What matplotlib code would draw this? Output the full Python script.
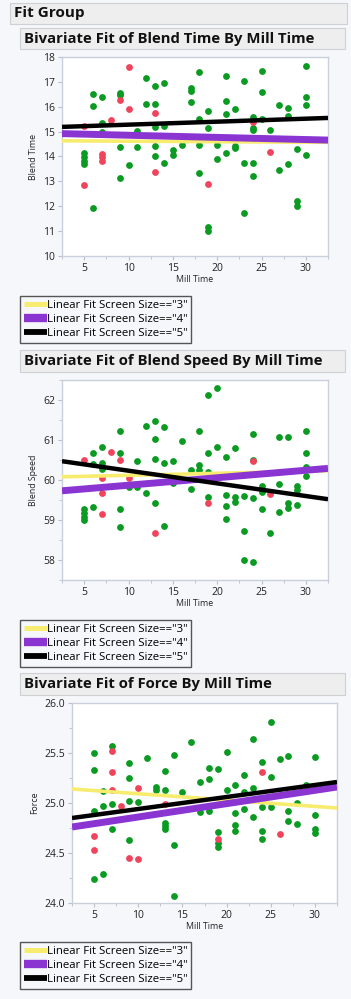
import matplotlib.pyplot as plt
from matplotlib.patches import Rectangle
from matplotlib.lines import Line2D
from matplotlib.ticker import MultipleLocator

plt.rcParams['font.family'] = ['Open Sans', 'DejaVu Sans']

##### data #####
xlim = (2.5, 32.5)

# Blend Time
bt_green_x = [12, 13, 14, 6, 7, 9, 9, 6, 12, 13, 7, 13, 14, 11, 7, 9, 11, 13, 15, 15, 16, 5, 5, 5, 5, 13, 14, 10, 9, 6,
              30, 18, 21, 25, 23, 17, 17, 17, 25, 30, 30, 21, 27, 28, 22, 19, 21, 24, 18, 28, 25, 19, 24, 24, 26,
              18, 20, 22, 22, 29, 30, 21, 20, 23, 24, 28, 27, 18, 24, 29, 29, 23, 19, 19]
bt_green_y = [17.17, 16.84, 16.97, 16.5, 16.38, 16.57, 16.48, 16.02, 16.13, 16.13, 15.35, 15.19, 15.22, 15.03, 14.98,
              14.39, 14.38, 14.43, 14.25, 14.05, 14.45, 14.16, 13.99, 13.83, 13.68, 14.03, 13.75, 13.65, 13.14, 11.91,
              17.63, 17.38, 17.25, 17.42, 17.02, 16.77, 16.64, 16.19, 16.58, 16.38, 16.09, 16.22, 16.06, 15.95, 15.9,
              15.82, 15.69, 15.59, 15.5, 15.62, 15.5, 15.16, 15.15, 15.06, 15.06, 14.47, 14.47, 14.41, 14.35, 14.29,
              14.05, 14.15, 13.89, 13.75, 13.75, 13.71, 13.46, 13.33, 13.21, 12.23, 12.02, 11.73, 11.15, 11.0]
bt_red_x = [10, 9, 10, 13, 8, 5, 7, 7, 7, 13, 5, 24, 26, 19]
bt_red_y = [17.6, 16.28, 15.9, 15.73, 15.46, 15.23, 14.1, 13.96, 13.81, 13.37, 12.84, 15.39, 14.19, 12.89]
bt_fit_start = [14.63, 14.92, 15.19]   # screen size 3, 4, 5 at x=2.5
bt_fit_end = [14.57, 14.66, 15.55]     # at x=32.5

# Blend Speed
bs_green_x = [9, 12, 13, 13, 14, 16, 7, 6, 9, 13, 11, 15, 14, 6, 7, 7, 10, 11, 12, 13, 6, 5, 5, 5, 5, 9, 9, 14, 15,
              20, 19, 18, 24, 27, 28, 30, 20, 22, 19, 30, 21, 24, 18, 17, 18, 19, 30, 30, 17, 27, 25, 25, 29, 29,
              21, 22, 22, 23, 24, 19, 21, 28, 28, 29, 25, 27, 21, 23, 26, 23, 24]
bs_green_y = [61.23, 61.36, 61.48, 61.02, 61.32, 60.98, 60.83, 60.68, 60.68, 60.53, 60.48, 60.48, 60.43, 60.39, 60.42,
              60.27, 59.83, 59.82, 59.67, 59.42, 59.33, 59.27, 59.17, 59.08, 59.0, 59.28, 58.83, 58.85, 59.92,
              62.29, 62.12, 61.23, 61.15, 61.08, 61.07, 61.22, 60.82, 60.79, 60.67, 60.68, 60.58, 60.5, 60.38, 60.25,
              60.25, 60.21, 60.32, 60.1, 59.78, 59.91, 59.85, 59.71, 59.85, 59.75, 59.63, 59.57, 59.45, 59.6, 59.54,
              59.57, 59.36, 59.42, 59.29, 59.38, 59.28, 59.19, 59.03, 58.73, 58.68, 57.99, 57.96]
bs_red_x = [8, 5, 9, 7, 10, 7, 7, 13, 24, 26, 19]
bs_red_y = [60.7, 60.49, 60.49, 60.06, 60.06, 59.67, 59.15, 58.68, 60.47, 59.65, 59.42]
bs_fit_start = [60.08, 59.73, 60.47]
bs_fit_end = [60.23, 60.29, 59.52]

# Force
fo_green_x = [7, 5, 11, 9, 14, 5, 13, 9, 12, 12, 13, 6, 15, 9, 10, 7, 6, 5, 7, 13, 13, 13, 9, 14, 6, 5, 14,
              25, 16, 23, 20, 30, 27, 26, 24, 18, 19, 22, 25, 18, 17, 21, 29, 20, 23, 22, 28, 24, 25, 22, 17,
              18, 27, 21, 30, 23, 27, 28, 21, 21, 19, 24, 24, 30, 30, 19, 19]
fo_green_y = [25.57, 25.5, 25.45, 25.4, 25.48, 25.33, 25.32, 25.25, 25.16, 25.13, 25.13, 25.12, 25.11, 25.02, 25.01,
              24.99, 24.97, 24.92, 24.74, 24.8, 24.77, 24.74, 24.63, 24.58, 24.29, 24.24, 24.07,
              25.81, 25.61, 25.64, 25.51, 25.46, 25.47, 25.44, 25.41, 25.35, 25.34, 25.28, 25.26, 25.24, 25.21,
              25.18, 25.18, 25.13, 25.15, 25.11, 25.0, 24.96, 24.96, 24.94, 24.91, 24.92, 24.92, 24.9, 24.88,
              24.86, 24.82, 24.79, 24.78, 24.72, 24.71, 24.72, 24.64, 24.74, 24.7, 24.6, 24.56]
fo_red_x = [7, 7, 10, 7, 8, 13, 5, 5, 9, 10, 24, 26, 19]
fo_red_y = [25.52, 25.31, 25.15, 25.13, 24.97, 24.99, 24.67, 24.53, 24.45, 24.44, 25.31, 24.69, 24.64]
fo_fit_start = [25.14, 24.76, 24.85]
fo_fit_end = [24.95, 25.16, 25.21]

fit_labels = ['Linear Fit Screen Size=="3"', 'Linear Fit Screen Size=="4"', 'Linear Fit Screen Size=="5"']
fit_colors = ['#f7ec6e', '#8a35d2', '#000000']
fit_widths = [2.6, 5.0, 3.2]

##### figure #####
W, H = 351, 999
bg = '#f6f7fb'
fig = plt.figure(figsize=(W / 100, H / 100), dpi=100, facecolor=bg)


def fbox(x0, y0, x1, y1):
    # pixel box (top-left origin) -> figure fraction [l, b, w, h]
    return [x0 / W, 1 - y1 / H, (x1 - x0) / W, (y1 - y0) / H]


def header(x0, y0, x1, y1, text, size):
    l, b, w, h = fbox(x0, y0, x1, y1)
    fig.add_artist(Rectangle((l, b), w, h, transform=fig.transFigure,
                             facecolor='#eeeeef', edgecolor='#cfd0d4', lw=0.8))
    fig.text(l + 4 / W, b + h / 2, text, fontsize=size, fontweight='bold',
             va='center', ha='left', color='#111111')


def panel(box, gx, gy, rx, ry, fstart, fend, ylim, ymaj, ymin, ylabel, yfmt, leg_top):
    ax = fig.add_axes(fbox(*box))
    ax.set_facecolor('white')
    ax.scatter(gx, gy, s=24, color='#0b9a22', zorder=2, linewidths=0)
    ax.scatter(rx, ry, s=24, color='#f0445c', zorder=2, linewidths=0)
    for i in range(3):
        ax.plot(xlim, [fstart[i], fend[i]], color=fit_colors[i], lw=fit_widths[i],
                solid_capstyle='butt', zorder=3 + i)
    ax.set_xlim(*xlim)
    ax.set_ylim(*ylim)
    ax.xaxis.set_major_locator(MultipleLocator(5))
    ax.xaxis.set_minor_locator(MultipleLocator(2.5))
    ax.yaxis.set_major_locator(MultipleLocator(ymaj))
    ax.yaxis.set_minor_locator(MultipleLocator(ymin))
    ax.set_xticks([5, 10, 15, 20, 25, 30])
    ax.yaxis.set_major_formatter(yfmt)
    for s in ax.spines.values():
        s.set_color('#c9cfdb')
        s.set_linewidth(1.0)
    ax.tick_params(which='both', color='#b9bfcc', labelsize=7.5, labelcolor='#222222', length=3, pad=2)
    ax.tick_params(which='minor', length=2)
    ax.set_xlabel('Mill Time', fontsize=6.3, labelpad=1, color='#222222')
    ax.set_ylabel(ylabel, fontsize=6.3, labelpad=4, color='#222222')
    handles = [Line2D([], [], color=fit_colors[i], lw=fit_widths[i] + 1.0, solid_capstyle='butt')
               for i in range(3)]
    fig.legend(handles, fit_labels, loc='upper left',
               bbox_to_anchor=(20 / W, 1 - leg_top / H), fontsize=8.2, frameon=True,
               fancybox=False, edgecolor='#555555', facecolor=bg, framealpha=1,
               handlelength=2.0, handletextpad=0.0, labelspacing=0.25, borderpad=0.35,
               borderaxespad=0)
    return ax


header(10, 3, 347, 24, 'Fit Group', 11)

header(20, 28, 345, 49, 'Bivariate Fit of Blend Time By Mill Time', 10.7)
panel((62, 57, 328, 256), bt_green_x, bt_green_y, bt_red_x, bt_red_y, bt_fit_start, bt_fit_end,
      (10, 18), 1, 1, 'Blend Time', '{x:.0f}', 296)

header(20, 350, 345, 372, 'Bivariate Fit of Blend Speed By Mill Time', 10.7)
panel((62, 380, 328, 580), bs_green_x, bs_green_y, bs_red_x, bs_red_y, bs_fit_start, bs_fit_end,
      (57.5, 62.5), 1, 0.5, 'Blend Speed', '{x:.0f}', 620)

header(20, 673, 345, 695, 'Bivariate Fit of Force By Mill Time', 10.7)
panel((72, 703, 337, 903), fo_green_x, fo_green_y, fo_red_x, fo_red_y, fo_fit_start, fo_fit_end,
      (24, 26), 0.5, 0.25, 'Force', '{x:.1f}', 942)

plt.savefig('out.png', dpi=100, facecolor=bg)
